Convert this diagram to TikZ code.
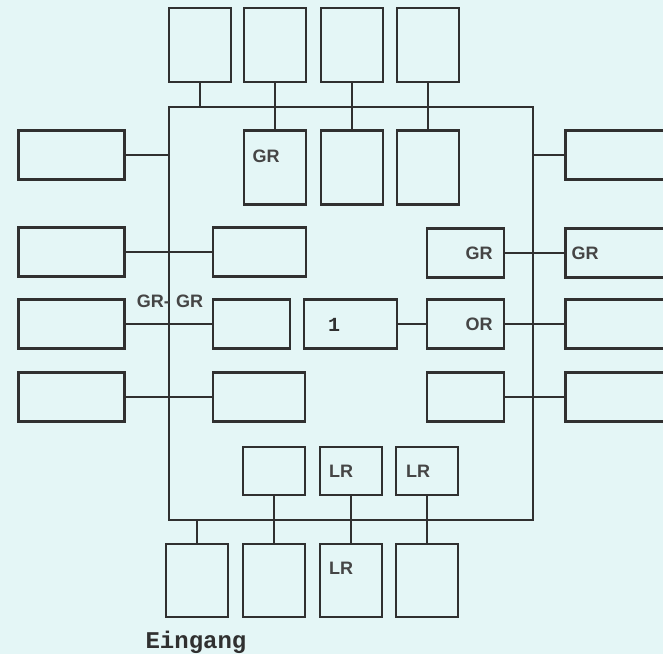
\documentclass[tikz,border=0pt]{standalone}
\usepackage{fontspec}
\setsansfont{Liberation Sans}
\setmonofont{Liberation Mono}
\usetikzlibrary{calc,positioning}
\definecolor{bpaper}{HTML}{E4F6F6}
\definecolor{bink}{HTML}{303030}

\begin{document}
\begin{tikzpicture}[
  x=1pt,y=-1pt,
  base/.style={draw=bink,line width=2.5pt,inner sep=0pt},
  tall/.style={base,minimum width=62pt,minimum height=74pt},
  wide/.style={base,minimum width=106pt,minimum height=49pt},
  mid/.style={base,minimum height=49pt},
  small/.style={base,minimum width=62pt,minimum height=48pt},
  busframe/.style={base,minimum width=364pt,minimum height=413pt},
  wire/.style={draw=bink,line width=2.5pt},
  lbl/.style={font=\sffamily\bfseries\fontsize{18}{20}\selectfont,text=bink!90,inner sep=0pt},
  tlbl/.style={font=\ttfamily\bfseries\fontsize{24}{26}\selectfont,text=bink,inner sep=0pt}
]
\useasboundingbox (0,0) rectangle (663,654);
\fill[bpaper] (0,0) rectangle (663,654);
\clip (0,0) rectangle (663,654);

% Central bus frame.
\node[busframe] (bus) at (351,313.5) {};

% Upper row, outside and inside the frame.
\node[tall] (top1) at (200,45) {};
\node[tall] (top2) at (275,45) {};
\node[tall] (top3) at (352,45) {};
\node[tall] (top4) at (428,45) {};
\node[tall] (in1) at (275,167.5) {};
\node[tall] (in2) at (352,167.5) {};
\node[tall] (in3) at (428,167.5) {};
\draw[wire] (top1.south) -- (top1 |- bus.north);
\draw[wire] (top2) -- (in1);
\draw[wire] (top3) -- (in2);
\draw[wire] (top4) -- (in3);

% Left column and the boxes it feeds.
\node[wide] (left1) at (71.5,155) {};
\node[wide] (left2) at (71.5,252) {};
\node[wide] (left3) at (71.5,324) {};
\node[wide] (left4) at (71.5,397) {};
\node[mid,minimum width=93pt] (mid1) at (259.5,252) {};
\node[mid,minimum width=77pt] (mid2) at (251.5,324) {};
\node[mid,minimum width=92pt] (mid3) at (259,397) {};
\node[mid,minimum width=93pt] (one) at (350.5,324) {};
\draw[wire] (left1.east) -- (left1 -| bus.west);
\draw[wire] (left2) -- (mid1);
\draw[wire] (left3) -- (mid2);
\draw[wire] (left4) -- (mid3);

% Right column; the outer boxes run off the page.
\node[mid,minimum width=77pt] (rin1) at (465.5,253) {};
\node[mid,minimum width=77pt] (rin2) at (465.5,324) {};
\node[mid,minimum width=77pt] (rin3) at (465.5,397) {};
\node[mid,minimum width=130pt,anchor=west] (rout1) at (564,155) {};
\node[mid,minimum width=130pt,anchor=west] (rout2) at (564,253) {};
\node[mid,minimum width=130pt,anchor=west] (rout3) at (564,324) {};
\node[mid,minimum width=130pt,anchor=west] (rout4) at (564,397) {};
\draw[wire] (one) -- (rin2);
\draw[wire] (rout1 -| bus.east) -- (rout1.west);
\draw[wire] (rin1) -- (rout2);
\draw[wire] (rin2) -- (rout3);
\draw[wire] (rin3) -- (rout4);

% Lower row, inside and outside the frame.
\node[small] (low1) at (274,471) {};
\node[small] (low2) at (351,471) {};
\node[small] (low3) at (427,471) {};
\node[tall,minimum height=73pt] (bot1) at (197,580.5) {};
\node[tall,minimum height=73pt] (bot2) at (274,580.5) {};
\node[tall,minimum height=73pt] (bot3) at (351,580.5) {};
\node[tall,minimum height=73pt] (bot4) at (427,580.5) {};
\draw[wire] (bot1.north) -- (bot1 |- bus.south);
\draw[wire] (low1) -- (bot2);
\draw[wire] (low2) -- (bot3);
\draw[wire] (low3) -- (bot4);

% Labels.
\node[lbl] (grin) at (266,156) {GR};
\node[lbl,anchor=east] (grleft) at (170,301) {GR-};
\node[lbl,anchor=west] (grright) at (176,301) {GR};
\node[lbl] (grrin) at (479,253) {GR};
\node[lbl] (grrout) at (585,253) {GR};
\node[lbl] (orlbl) at (479,324) {OR};
\node[tlbl,font=\ttfamily\bfseries\fontsize{20}{22}\selectfont] (onelbl) at (334,325) {1};
\node[lbl] (lr1) at (341,471) {LR};
\node[lbl] (lr2) at (418,471) {LR};
\node[lbl] (lr3) at (341,568) {LR};
\node[tlbl,anchor=base] (eingang) at (196,648) {Eingang};
\end{tikzpicture}
\end{document}
